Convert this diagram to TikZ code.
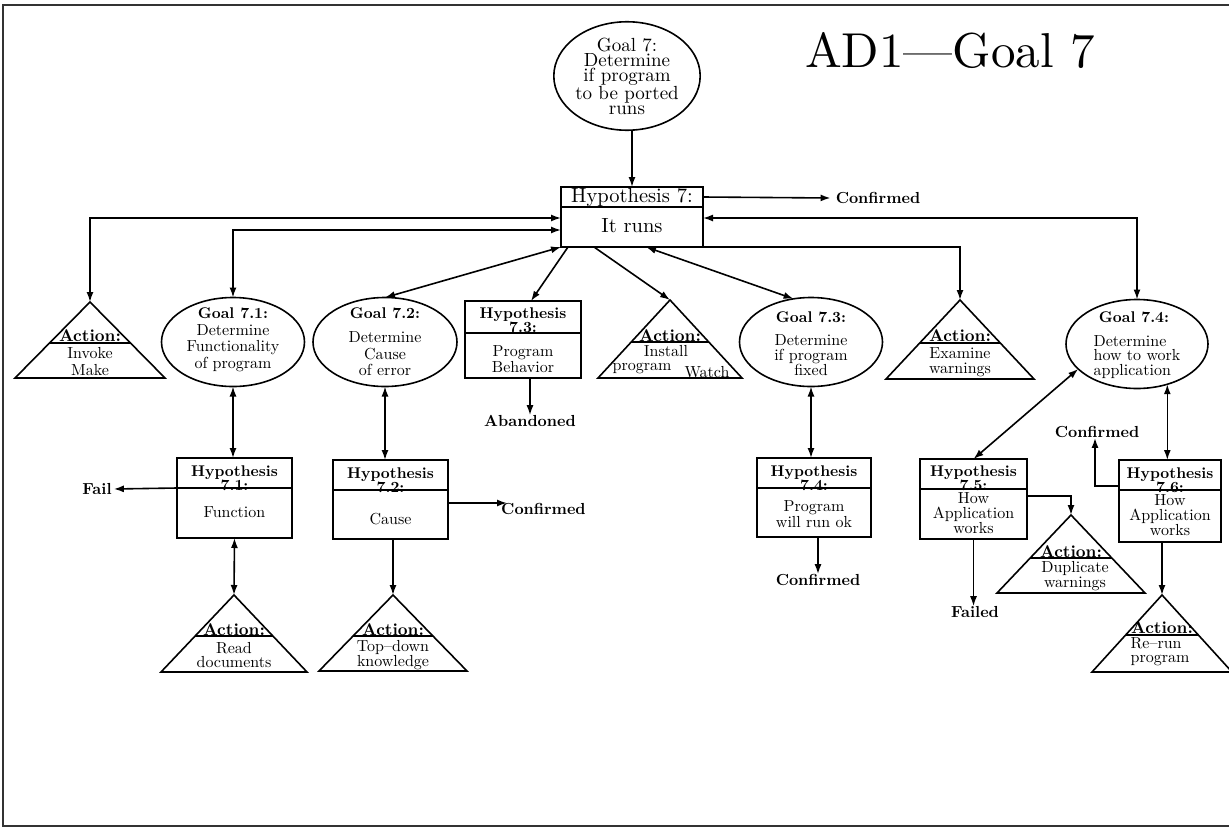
\documentclass[tikz,border=0pt]{standalone}
\usepackage{fontspec}
% the 10pt design of Latin Modern at every size, for even stroke weight
\setmainfont{lmroman10-regular.otf}[BoldFont=lmroman10-bold.otf, ItalicFont=lmroman10-italic.otf]
\usetikzlibrary{arrows.meta,shapes.geometric}
\newcommand\setfs[2]{\fontsize{#1}{#2}\selectfont}
% action triangle: name, apex x, apex y, half width, height, depth of the rule under "Action:"
\newcommand\acttri[6]{%
  \pgfmathsetmacro\tdx{#4*#6/#5}%
  \coordinate (#1) at (#2,#3);
  \draw[shapeline] (#1) -- ++(#4,#5) -- ++({-2*#4},0) -- cycle;
  \draw[shapeline] ([shift={(-\tdx,#6)}]#1) -- ([shift={(\tdx,#6)}]#1);
}
% hypothesis box: name, centre x, centre y, width, height, y of the dividing rule
\newcommand\hypbox[6]{%
  \node[hbox, minimum width=#4pt, minimum height=#5pt] (#1) at (#2,#3) {};
  \draw[shapeline] (#1.west |- 0,#6) -- (#1.east |- 0,#6);
}
\begin{document}
\begin{tikzpicture}[x=1pt,y=-1pt,
  shapeline/.style={line width=1.6pt},
  link/.style={line width=1.6pt},
  arr/.style={link,-{Latex[length=10pt,width=7pt]}},
  darr/.style={link,{Latex[length=10pt,width=7pt]}-{Latex[length=10pt,width=7pt]}},
  goal/.style={shapeline,draw,ellipse,inner sep=0pt,outer sep=0pt},
  hbox/.style={shapeline,draw,rectangle,inner sep=0pt,outer sep=0pt},
  titlebf/.style={font=\bfseries\setfs{15.5}{14},align=center,inner sep=0pt},
  bodytxt/.style={font=\setfs{16}{16.5},align=center,inner sep=0pt},
  acttxt/.style={font=\bfseries\setfs{17}{17},inner sep=0pt},
  outlab/.style={font=\bfseries\setfs{16}{16},inner sep=0pt},
]
\useasboundingbox (0,0) rectangle (1229,830);
% page frame
\draw[line width=1.8pt, black!80] (1229,5) -- (3,5) -- (3,826) -- (1229,826);

\node[font=\setfs{49}{49}, inner sep=0pt] (title) at (950,50) {AD1---Goal 7};

% top goal and hypothesis
\node[goal, minimum width=144pt, minimum height=94pt, font=\setfs{19}{15}, align=center] (g7) at (627,76)
  {Goal 7:\\Determine\\if program\\to be ported\\runs};
\hypbox{h7}{632}{217}{142}{60}{207}
\node[font=\setfs{20.5}{20}, inner sep=0pt] (h7a) at (632,197) {Hypothesis 7:};
\node[font=\setfs{20.5}{20}, inner sep=0pt] (h7b) at (632,226) {It runs};
\node[outlab] (cf0) at (878,198) {Confirmed};

% second row
\acttri{aim}{90}{302}{75}{76}{41}
\node[acttxt] (aimt) at (90,336) {Action:};
\node[bodytxt, font=\setfs{16}{17}] (aimb) at (90,362) {Invoke\\Make};

\node[goal, minimum width=143pt, minimum height=89pt] (g71) at (233,342) {};
\node[titlebf] (g71t) at (233,313) {Goal 7.1:};
\node[bodytxt] (g71b) at (233,348) {Determine\\Functionality\\of program};

\node[goal, minimum width=144pt, minimum height=89pt] (g72) at (385,342) {};
\node[titlebf] (g72t) at (385,313) {Goal 7.2:};
\node[bodytxt] (g72b) at (385,354) {Determine\\Cause\\of error};

\hypbox{h73}{523}{339.5}{116}{77}{333}
\node[titlebf] (h73t) at (523,320) {Hypothesis\\7.3:};
\node[bodytxt] (h73b) at (523,359) {Program\\Behavior};
\node[outlab] (abd) at (530,421) {Abandoned};

\acttri{ains}{670}{300}{72}{78}{42}
\node[acttxt] (ainst) at (670,336) {Action:};
\node[bodytxt] (ains1) at (666,351) {Install};
\node[bodytxt] (ains2) at (642,369) {program};
\node[bodytxt] (ains3) at (707,372) {Watch};

\node[goal, minimum width=143pt, minimum height=89pt] (g73) at (811,342) {};
\node[titlebf] (g73t) at (811,317) {Goal 7.3:};
\node[bodytxt, font=\setfs{16}{15}] (g73b) at (811,355) {Determine\\if program\\fixed};

\acttri{aex}{960}{300}{74}{79}{43}
\node[acttxt] (aext) at (960,336) {Action:};
\node[bodytxt, font=\setfs{16}{14.5}] (aexb) at (960,362) {Examine\\warnings};

\node[goal, minimum width=142pt, minimum height=89pt] (g74) at (1137,344) {};
\node[titlebf] (g74t) at (1134,317) {Goal 7.4:};
\node[bodytxt, font=\setfs{16}{14.5}, align=left] (g74b) at (1137,357) {Determine\\how to work\\application};

% third row
\hypbox{h71}{234.5}{498}{115}{80}{488}
\node[titlebf] (h71t) at (234.5,478) {Hypothesis\\7.1:};
\node[bodytxt] (h71b) at (234.5,512) {Function};
\node[outlab] (fail) at (97,489) {Fail};

\acttri{aread}{234}{595}{73}{77}{41}
\node[acttxt] (areadt) at (234,630) {Action:};
\node[bodytxt, font=\setfs{16}{14}] (areadb) at (234,655) {Read\\documents};

\hypbox{h72}{390.5}{499.5}{115}{79}{490}
\node[titlebf] (h72t) at (390.5,480) {Hypothesis\\7.2:};
\node[bodytxt] (h72b) at (390.5,519) {Cause};
\node[outlab, anchor=north west] (cf2) at (501,503) {Confirmed};

\acttri{atop}{393}{595}{74}{76}{41}
\node[acttxt] (atopt) at (393,630) {Action:};
\node[bodytxt, font=\setfs{16}{14}] (atopb) at (393,655) {Top--down\\knowledge};

\hypbox{h74}{814}{497.5}{114}{79}{488}
\node[titlebf] (h74t) at (814,478) {Hypothesis\\7.4:};
\node[bodytxt] (h74b) at (814,514) {Program\\will run ok};
\node[outlab] (cf3) at (818,580) {Confirmed};

\hypbox{h75}{973.5}{499}{107}{80}{489}
\node[titlebf] (h75t) at (973.5,478) {Hypothesis\\7.5:};
\node[bodytxt, font=\setfs{16}{15}] (h75b) at (973.5,513) {How\\Application\\works};
\node[outlab] (failed) at (975,612) {Failed};

\acttri{adup}{1071}{515}{74}{78}{43}
\node[acttxt] (adupt) at (1071,552) {Action:};
\node[bodytxt, font=\setfs{16}{15}] (adupb) at (1075,576) {Duplicate\\warnings};

\hypbox{h76}{1170}{501}{102}{82}{490}
\node[titlebf] (h76t) at (1170,480) {Hypothesis\\7.6:};
\node[bodytxt, font=\setfs{16}{15}] (h76b) at (1170,515) {How\\Application\\works};
\node[outlab] (cf4) at (1097,432) {Confirmed};

\acttri{arer}{1162}{595}{70}{77}{40}
\node[acttxt] (arert) at (1162,628) {Action:};
\node[bodytxt, font=\setfs{16}{14}, align=left] (arerb) at (1160,652) {Re--run\\program};

% connectors from the top goal and hypothesis
\draw[arr] (h7.north |- g7.south) -- (h7.north);
\draw[arr] (h7.east |- 0,197) -- ([xshift=-5pt]cf0.west);
\draw[darr] (g74.north) |- (h7.east |- 0,218);
\draw[arr] (h7.south east) -| (aex);
\draw[darr] (aim) |- (h7.west |- 0,218);
\draw[darr] (g71.north) |- (h7.west |- 0,230);
\draw[darr] (g72.north) -- (h7.south west);
\draw[arr] ([xshift=7pt]h7.south west) -- ([xshift=8pt]h73.north);
\draw[arr] ([xshift=33pt]h7.south west) -- (ains);
\draw[darr] ([xshift=85pt]h7.south west) -- (g73.112);

% lower connectors
\draw[arr] (abd.north |- h73.south) -- (abd.north);
\draw[darr] (g71.south) -- (g71.south |- h71.north);
\draw[arr] (h71.west |- 0,488) -- ([xshift=2pt]fail.east);
\draw[darr] (h71.south) -- (aread);
\draw[darr] (g72.south) -- (g72.south |- h72.north);
\draw[arr] (h72.east |- 0,503) -- ([xshift=6pt]cf2.north west);
\draw[arr] (atop |- h72.south) -- (atop);
\draw[darr] (g73.south) -- (g73.south |- h74.north);
\draw[arr] (cf3.north |- h74.south) -- (cf3.north);
\draw[darr] (g74.203) -- (h75.north);
\draw[arr] (h75.south) -- (h75.south |- failed.north);
\draw[arr] (h75.east |- 0,496) -| (adup);
\draw[darr] (g74.307) -- (g74.307 |- h76.north);
\draw[arr] (h76.west |- 0,486) -| ([xshift=-2pt]cf4.south);
\draw[arr] (arer |- h76.south) -- (arer);
\end{tikzpicture}
\end{document}
